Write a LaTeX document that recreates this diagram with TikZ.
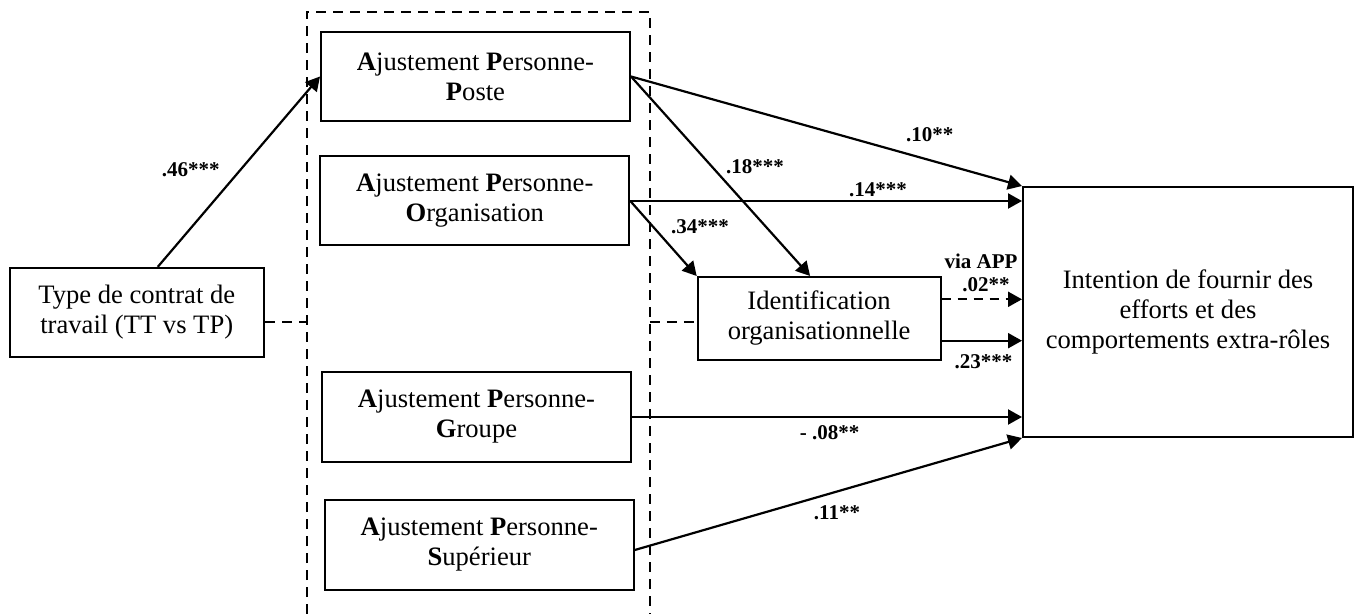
\documentclass[tikz,border=0pt]{standalone}
\usepackage{fontspec}
\setmainfont{Liberation Serif}
\usetikzlibrary{arrows.meta,positioning}

\begin{document}
\begin{tikzpicture}[x=0.5pt,y=-0.5pt]
	\tikzstyle{every node}=[font=\fontsize{13.3}{15}\selectfont];
	\tikzstyle{boite}=[draw,rectangle,align=center,line width=1pt,inner sep=0pt,minimum width=154.5pt,minimum height=44.5pt];
	\tikzstyle{coef}=[font=\fontsize{10.5}{12}\selectfont\bfseries,inner sep=0pt];
	\tikzstyle{pth}=[draw,line width=1.1pt,-{Triangle[length=7pt,width=7.5pt]}];
	\tikzstyle{pointille}=[draw,line width=1pt,dash pattern=on 5pt off 3.5pt];
	\useasboundingbox (0,0) rectangle (1360,614);
	% cadre en pointilles
	\coordinate (dbl) at (306.6,614);
	\coordinate (dtl) at (306.6,11.7);
	\coordinate (dtr) at (649.8,11.7);
	\coordinate (dbr) at (649.8,614);
	\draw[pointille] (dbl) -- (dtl) -- (dtr) -- (dbr);
	% boites
	\node (contrat) [boite,minimum width=127.25pt] at (136.75,312.4) {Type de contrat de \\ travail (TT vs TP)};
	\node (app) [boite] at (475.5,76.5) {\textbf{A}justement \textbf{P}ersonne- \\ \textbf{P}oste};
	\node (apo) [boite] at (474.8,201) {\textbf{A}justement \textbf{P}ersonne- \\ \textbf{O}rganisation};
	\node (apg) [boite,minimum height=45pt] at (476.5,417) {\textbf{A}justement \textbf{P}ersonne- \\ \textbf{G}roupe};
	\node (aps) [boite,minimum height=45pt] at (479.3,545) {\textbf{A}justement \textbf{P}ersonne- \\ \textbf{S}upérieur};
	\node (ident) [boite,minimum width=121.4pt,minimum height=41.5pt] at (819.1,318.5) {Identification \\ organisationnelle};
	\node (intention) [boite,minimum width=165pt,minimum height=125pt] at (1188,312) {Intention de fournir des \\ efforts et des \\ comportements extra-rôles};
	% liens en pointilles
	\coordinate (c1) at ([yshift=-4.65pt]contrat.east);
	\draw[pointille] (c1) -- (c1 -| dbl);
	\coordinate (c2) at ([yshift=-1.6pt]ident.west);
	\draw[pointille] (c2 -| dbr) -- (c2);
	% chemins
	\draw[pth] ([xshift=10.5pt]contrat.north) -- (app.west);
	\draw[pth] (app.east) -- (intention.north west);
	\draw[pth] (app.east) -- ([xshift=-4.5pt]ident.north);
	\draw[pth] (apo.east) -- (apo.east -| intention.west);
	\draw[pth] (apo.east) -- (ident.north west);
	\coordinate (i1) at ([yshift=9.6pt]ident.east);
	\coordinate (i2) at ([yshift=-11.1pt]ident.east);
	\draw[pth,dash pattern=on 4.5pt off 3.5pt] (i1) -- (i1 -| intention.west);
	\draw[pth] (i2) -- (i2 -| intention.west);
	\draw[pth] (apg.east) -- (apg.east -| intention.west);
	\draw[pth] ([yshift=-2.5pt]aps.east) -- (intention.south west);
	% coefficients
	\node (k46) [coef] at (190.8,170) {.46***};
	\node (k10) [coef] at (929.7,135) {.10**};
	\node (k18) [coef] at (755,166.7) {.18***};
	\node (k14) [coef] at (878,190) {.14***};
	\node (k34) [coef] at (700,226.7) {.34***};
	\node (kvia) [coef] at (981,261.7) {via APP};
	\node (k02) [coef] at (986,285) {.02**};
	\node (k23) [coef] at (983.5,361.7) {.23***};
	\node (k08) [coef] at (829.6,433) {- .08**};
	\node (k11) [coef] at (837,513) {.11**};
\end{tikzpicture}
\end{document}
